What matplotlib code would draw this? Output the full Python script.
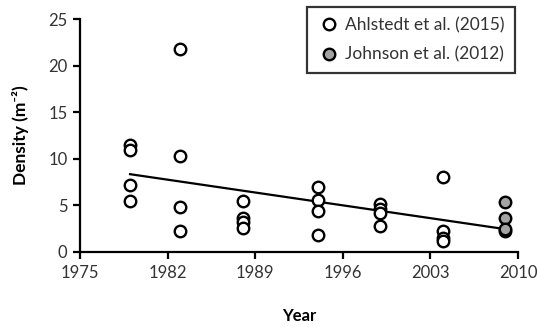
import matplotlib
matplotlib.use("Agg")
import matplotlib.pyplot as plt

plt.rcParams['font.family'] = ['Lato', 'DejaVu Sans']

# Ahlstedt et al. (2015)
ahl_years = [1979, 1979, 1979, 1979,
             1983, 1983, 1983, 1983,
             1988, 1988, 1988, 1988,
             1994, 1994, 1994, 1994,
             1999, 1999, 1999, 1999,
             2004, 2004, 2004, 2004,
             2009]
ahl_density = [11.5, 10.9, 7.2, 5.5,
               21.8, 10.3, 4.8, 2.3,
               5.5, 3.6, 3.2, 2.6,
               7.0, 5.6, 4.4, 1.8,
               5.2, 4.6, 4.2, 2.8,
               8.0, 2.2, 1.5, 1.2,
               2.3]
# Johnson et al. (2012)
joh_years = [2009, 2009, 2009]
joh_density = [5.4, 3.7, 2.5]
# trend line
trend_years = [1979, 2009]
trend_density = [8.35, 2.45]

xticks = [1975, 1982, 1989, 1996, 2003, 2010]
yticks = [0, 5, 10, 15, 20, 25]

fig = plt.figure(figsize=(5.37, 3.27), dpi=100)
ax = fig.add_axes([80/537, 1-252/327, (518-80)/537, (252-19)/327])

ax.plot(trend_years, trend_density, color='black', lw=1.6, zorder=2)
ax.plot(ahl_years, ahl_density, 'o', ms=8.3, mfc='white', mec='black', mew=1.7,
        label='Ahlstedt et al. (2015)', zorder=3)
ax.plot(joh_years, joh_density, 'o', ms=8.3, mfc='#a3a3a3', mec='black', mew=1.7,
        label='Johnson et al. (2012)', zorder=4)

ax.set_xlim(1975, 2010)
ax.set_ylim(0, 25)
ax.set_xticks(xticks)
ax.set_yticks(yticks)
for s in ['top', 'right']:
    ax.spines[s].set_visible(False)
for s in ['left', 'bottom']:
    ax.spines[s].set_linewidth(1.6)
ax.tick_params(direction='out', length=5, width=1.6, labelsize=12, colors='black',
               labelcolor='#333333', pad=4)
ax.set_xlabel('Year', fontsize=12, fontweight='bold', labelpad=20)
ax.set_ylabel('Density (m\u207b\u00b2)', fontsize=12.5, fontweight='bold', labelpad=14)

leg = ax.legend(loc='upper right', bbox_to_anchor=(515/537, 1-7/327), bbox_transform=fig.transFigure,
                frameon=True, fancybox=False, fontsize=12.5, handletextpad=0.3,
                borderpad=0.6, labelspacing=0.75, handlelength=1.3, edgecolor='black',
                borderaxespad=0)
leg.get_frame().set_linewidth(1.6)
for t in leg.get_texts():
    t.set_color('#333333')

fig.savefig('out.png', dpi=100)
